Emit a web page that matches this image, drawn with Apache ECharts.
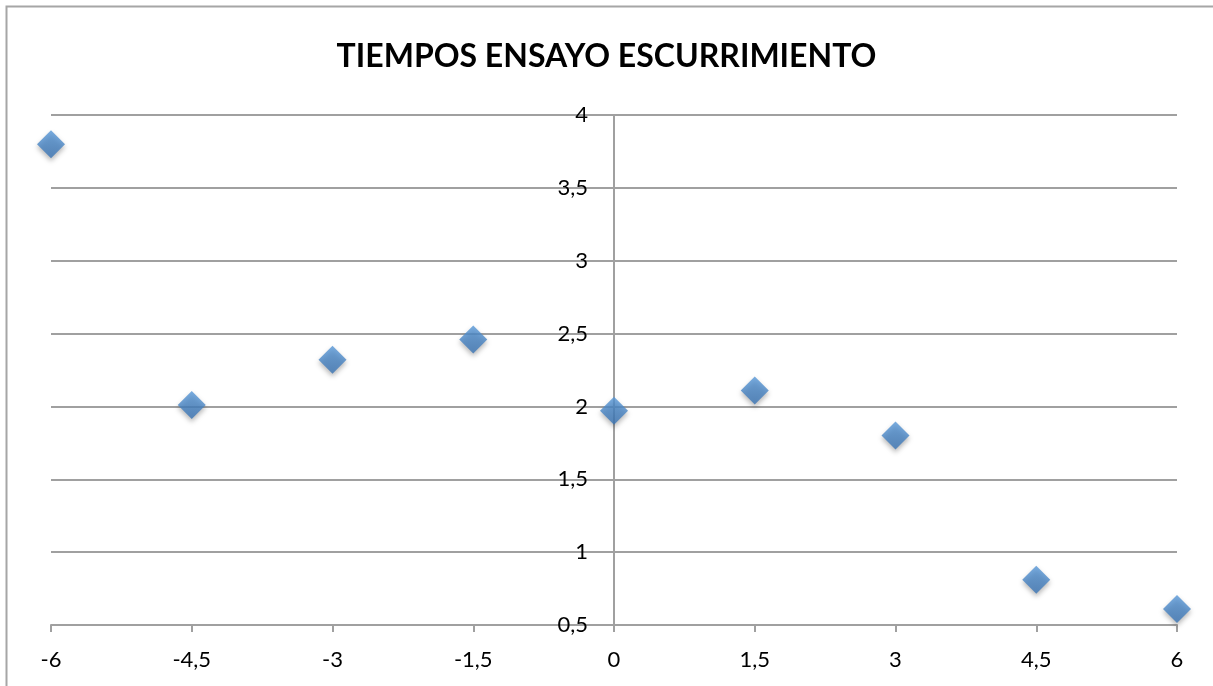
<!DOCTYPE html>
<html>
<head>
<meta charset="utf-8">
<title>Tiempos ensayo escurrimiento</title>
<script src="https://cdn.jsdelivr.net/npm/echarts@6/dist/echarts.min.js"></script>
<style>
  html, body { margin: 0; padding: 0; background: #ffffff; }
  #chart { width: 1213px; height: 686px; }
</style>
</head>
<body>
<div id="chart"></div>
<script>
// Positions along the test (x) and measured times (y)
const positions = [-6, -4.5, -3, -1.5, 0, 1.5, 3, 4.5, 6];
const tiempos = [3.80, 2.01, 2.32, 2.46, 1.97, 2.11, 1.80, 0.81, 0.61];

const xTicks = { min: -6, max: 6, step: 1.5 };
const yTicks = { min: 0.5, max: 4, step: 0.5 };

const chartTitle = 'TIEMPOS ENSAYO ESCURRIMIENTO';

// Decimal comma, as in Spanish number formatting
const fmt = v => String(Math.round(v * 100) / 100).replace('.', ',');

const points = positions.map((x, i) => [x, tiempos[i]]);

const W = 1213, H = 686;
const grid = { left: 51, right: 36, top: 115, bottom: 61 };
const plotWidth = W - grid.left - grid.right;
// The vertical axis crosses the horizontal one at x = 0
const yAxisShift = -plotWidth * (0 - xTicks.min) / (xTicks.max - xTicks.min);

const axisGray = '#a0a0a0';
const labelFont = 'Lato, "Open Sans", sans-serif';

const chart = echarts.init(document.getElementById('chart'), null, { renderer: 'canvas' });

chart.setOption({
  backgroundColor: '#ffffff',
  animation: false,
  title: {
    text: chartTitle,
    left: 'center',
    top: 36,
    textStyle: {
      fontFamily: labelFont,
      fontWeight: 'bold',
      fontSize: 32,
      color: '#000000'
    }
  },
  grid: Object.assign({ containLabel: false }, grid),
  xAxis: {
    type: 'value',
    min: xTicks.min,
    max: xTicks.max,
    interval: xTicks.step,
    axisLine: { onZero: false, lineStyle: { color: axisGray, width: 2 } },
    axisTick: { show: true, length: 7, lineStyle: { color: axisGray, width: 2 } },
    splitLine: { show: false },
    axisLabel: {
      formatter: fmt,
      margin: 24,
      fontFamily: labelFont,
      fontSize: 22,
      color: '#000000'
    }
  },
  yAxis: {
    type: 'value',
    min: yTicks.min,
    max: yTicks.max,
    interval: yTicks.step,
    offset: yAxisShift,
    axisLine: { show: true, onZero: false, lineStyle: { color: axisGray, width: 2 } },
    axisTick: { show: true, length: 8, lineStyle: { color: axisGray, width: 2 } },
    splitLine: { show: true, lineStyle: { color: axisGray, width: 2 } },
    axisLabel: {
      formatter: fmt,
      margin: 26,
      fontFamily: labelFont,
      fontSize: 22,
      color: '#000000'
    }
  },
  series: [{
    type: 'scatter',
    data: points,
    symbol: 'diamond',
    symbolSize: [28, 28],
    itemStyle: {
      color: new echarts.graphic.LinearGradient(0, 0, 0, 1, [
        { offset: 0, color: '#5898d8' },
        { offset: 1, color: '#3a74b4' }
      ]),
      shadowColor: 'rgba(0, 0, 0, 0.35)',
      shadowBlur: 5,
      shadowOffsetY: 3
    },
    z: 5
  }],
  graphic: [
    {
      type: 'polyline',
      shape: { points: [[6.5, H], [6.5, 6.5], [W, 6.5]] },
      style: { stroke: '#a6a6a6', lineWidth: 2, fill: null },
      silent: true
    }
  ]
});
</script>
</body>
</html>
